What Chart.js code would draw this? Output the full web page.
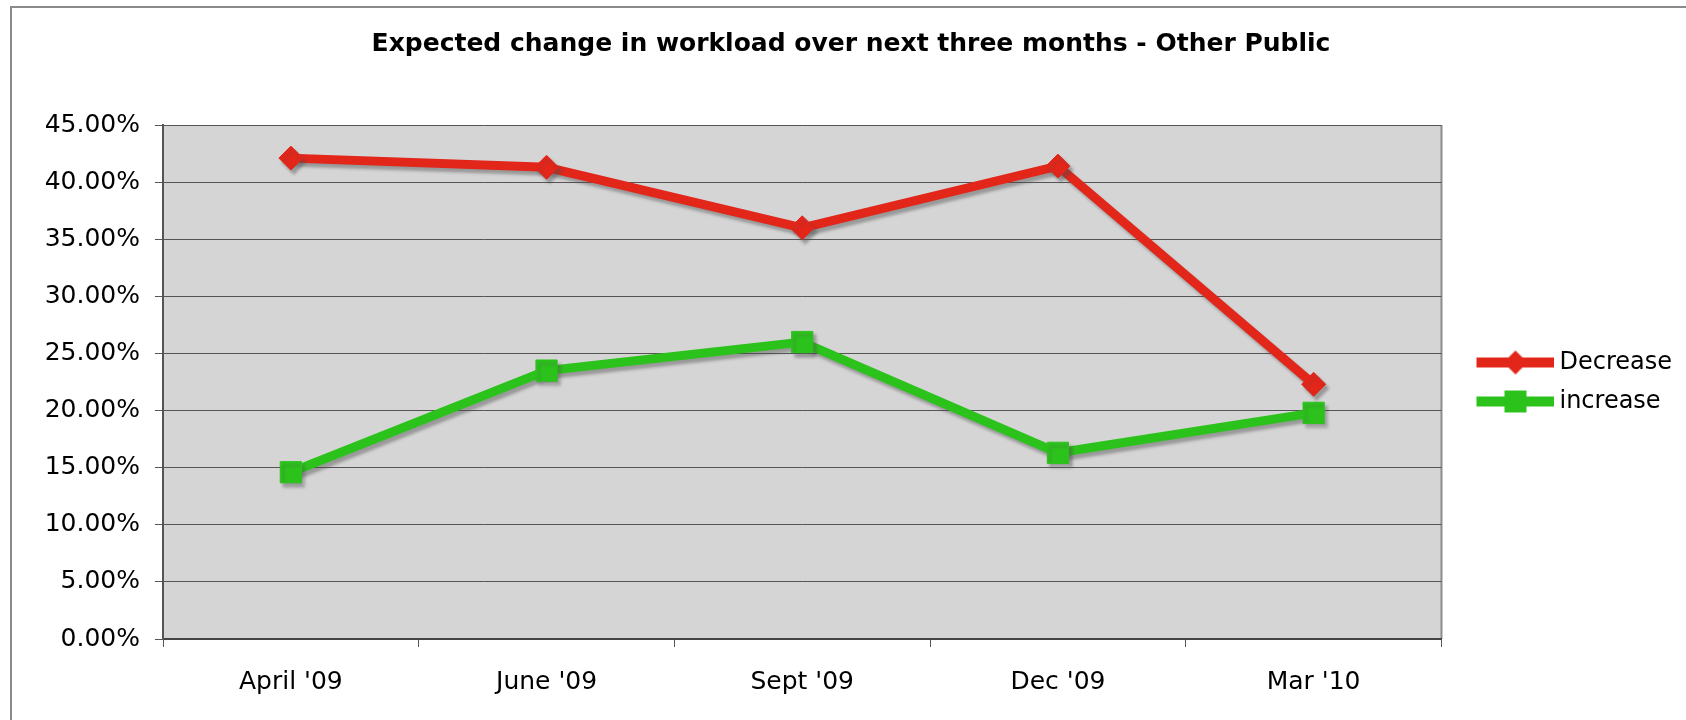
<!DOCTYPE html>
<html>
<head>
<meta charset="utf-8">
<script src="https://cdn.jsdelivr.net/npm/chart.js@4/dist/chart.umd.min.js"></script>
<style>
  html, body { margin: 0; padding: 0; background: #fff; }
  #wrap { position: relative; width: 1686px; height: 720px; }
  #frame { position: absolute; left: 10px; top: 6px; right: -4px; bottom: -4px; border-left: 2px solid #8a8a8a; border-top: 2px solid #8a8a8a; pointer-events: none; }
  canvas { position: absolute; left: 0; top: 0; }
</style>
</head>
<body>
<div id="wrap">
  <canvas id="c" width="1686" height="720"></canvas>
  <div id="frame"></div>
</div>
<script>
const titleText = "Expected change in workload over next three months - Other Public";
const categories = ["April '09", "June '09", "Sept '09", "Dec '09", "Mar '10"];
const decreaseValues = [42.1, 41.3, 36.0, 41.4, 22.3];
const increaseValues = [14.6, 23.5, 26.0, 16.3, 19.8];
const seriesNames = ["Decrease", "increase"];
const yTicks = [0, 5, 10, 15, 20, 25, 30, 35, 40, 45];

const RED = '#e2261a';
const GREEN = '#2cc21c';
const FONT = "'DejaVu Sans', Verdana, sans-serif";

function legendSample(color, marker) {
  const cv = document.createElement('canvas');
  cv.width = 105; cv.height = 28;
  const g = cv.getContext('2d');
  g.strokeStyle = color; g.lineWidth = 10;
  g.beginPath(); g.moveTo(27, 14); g.lineTo(105, 14); g.stroke();
  g.fillStyle = color;
  const cx = 66;
  if (marker === 'diamond') {
    g.beginPath(); g.moveTo(cx - 12, 14); g.lineTo(cx, 2); g.lineTo(cx + 12, 14); g.lineTo(cx, 26); g.closePath(); g.fill();
  } else {
    g.fillRect(cx - 11, 3, 22, 22);
  }
  return cv;
}
const legendImgs = [legendSample(RED, 'diamond'), legendSample(GREEN, 'square')];

const plotBg = {
  id: 'plotBg',
  beforeDraw(chart) {
    const {ctx, chartArea: a} = chart;
    ctx.save();
    ctx.fillStyle = '#d5d5d5';
    ctx.fillRect(a.left, a.top, a.right - a.left, a.bottom - a.top);
    ctx.strokeStyle = '#8c8c8c';
    ctx.lineWidth = 2;
    ctx.beginPath(); ctx.moveTo(a.right, a.top); ctx.lineTo(a.right, a.bottom); ctx.stroke();
    ctx.restore();
  },
  beforeDatasetsDraw(chart) {
    const ctx = chart.ctx;
    ctx.save();
    ctx.shadowColor = 'rgba(80,80,80,0.45)';
    ctx.shadowOffsetX = 3;
    ctx.shadowOffsetY = 4;
    ctx.shadowBlur = 3;
  },
  afterDatasetsDraw(chart) {
    chart.ctx.restore();
  }
};

new Chart(document.getElementById('c'), {
  type: 'line',
  data: {
    labels: categories,
    datasets: [
      {
        label: seriesNames[0],
        data: decreaseValues,
        borderColor: RED,
        backgroundColor: RED,
        borderWidth: 9,
        pointStyle: 'rectRot',
        pointRadius: 12,
        pointBorderWidth: 1,
        pointHoverRadius: 12,
        tension: 0,
        fill: false
      },
      {
        label: seriesNames[1],
        data: increaseValues,
        borderColor: GREEN,
        backgroundColor: GREEN,
        borderWidth: 9,
        pointStyle: 'rect',
        pointRadius: 15,
        pointBorderWidth: 1,
        pointHoverRadius: 15,
        tension: 0,
        fill: false
      }
    ]
  },
  options: {
    responsive: false,
    animation: false,
    layout: { padding: { left: 20, right: 4, top: 0, bottom: 0 } },
    plugins: {
      title: {
        display: true,
        text: titleText,
        color: '#000',
        font: { family: FONT, size: 25, weight: 'bold', lineHeight: 1.2 },
        padding: { top: 29, bottom: 66 }
      },
      legend: {
        display: true,
        position: 'right',
        align: 'center',
        fullSize: false,
        labels: {
          color: '#000',
          font: { family: FONT, size: 24 },
          usePointStyle: true,
          pointStyleWidth: 91,
          boxHeight: 24,
          padding: 15,
          generateLabels(chart) {
            const items = Chart.defaults.plugins.legend.labels.generateLabels(chart);
            items.forEach((it, i) => { it.pointStyle = legendImgs[i]; });
            return items;
          }
        }
      },
      tooltip: { enabled: false }
    },
    scales: {
      x: {
        type: 'category',
        offset: true,
        grid: { offset: true, drawOnChartArea: false, drawTicks: true, tickLength: 8, color: '#555' },
        border: { display: true, color: '#444', width: 2 },
        ticks: { color: '#000', font: { family: FONT, size: 25 }, padding: 20, maxRotation: 0 },
        afterFit(scale) { scale.height = 81; }
      },
      y: {
        min: 0,
        max: 45,
        afterBuildTicks(scale) { scale.ticks = yTicks.map(v => ({ value: v })); },
        grid: { color: '#555', lineWidth: 1, drawTicks: true, tickLength: 8 },
        border: { display: true, color: '#555', width: 2 },
        ticks: {
          color: '#000',
          font: { family: FONT, size: 25 },
          padding: 15,
          callback: v => v.toFixed(2) + '%'
        },
        afterFit(scale) { scale.width = 143; }
      }
    }
  },
  plugins: [plotBg]
});
</script>
</body>
</html>
